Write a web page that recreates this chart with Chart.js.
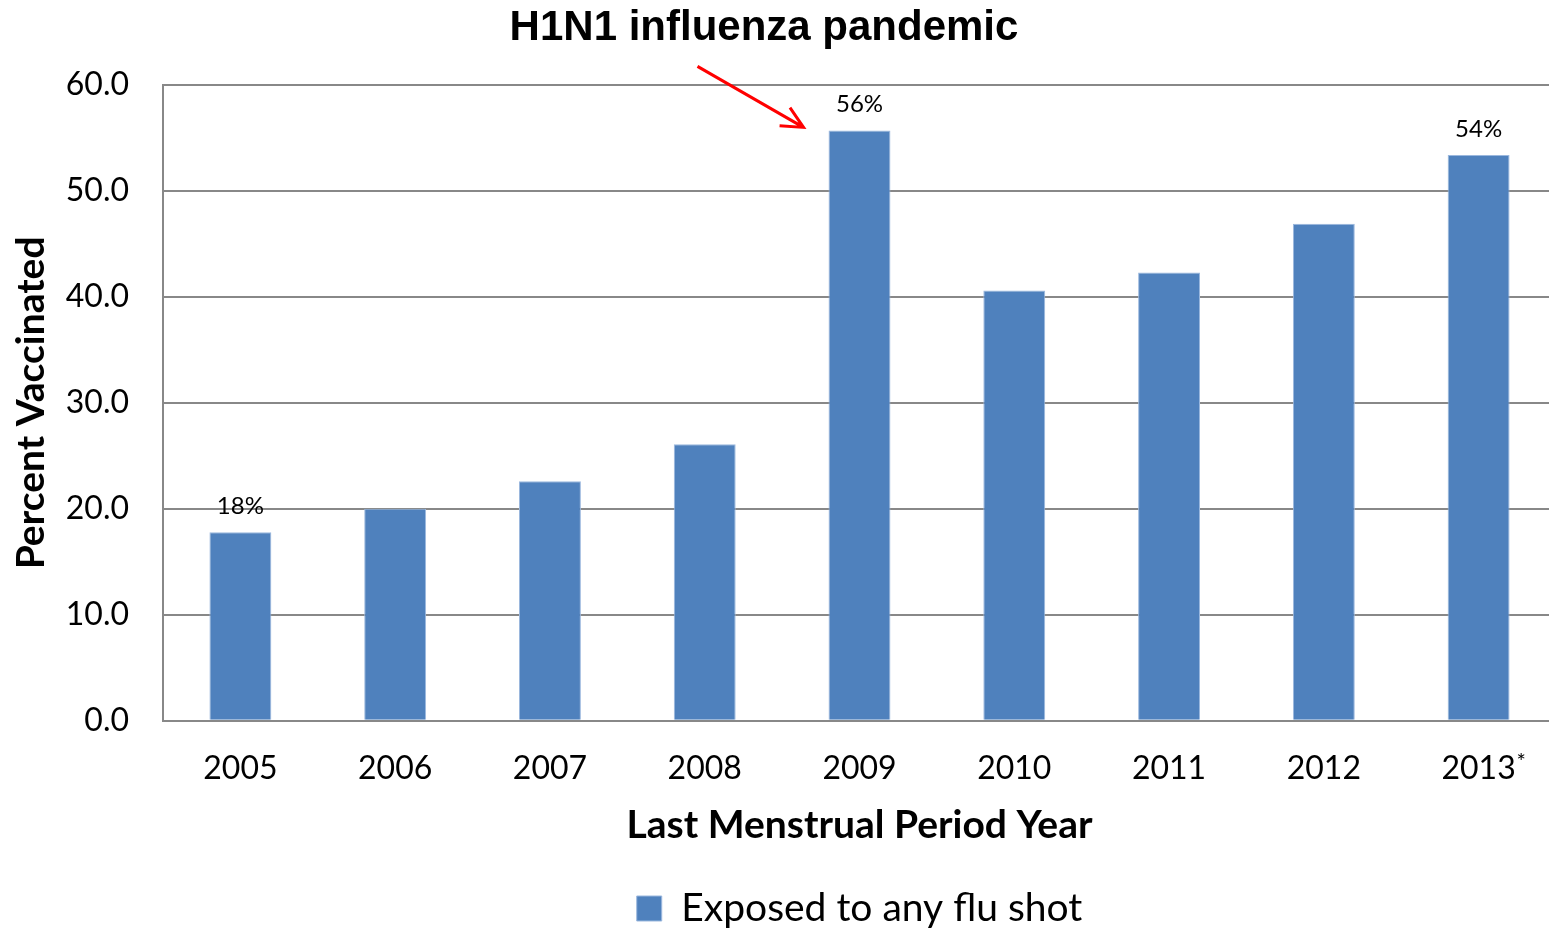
<!DOCTYPE html>
<html>
<head>
<meta charset="utf-8">
<script src="https://cdn.jsdelivr.net/npm/chart.js@4"></script>
<style>
    body { margin: 0; overflow: hidden; background: #fff; }
    #wrap { width: 1556px; height: 930px; }
</style>
</head>
<body>
<div id="wrap"><canvas id="fluShotChart"></canvas></div>
<script>
// Values
const years = ['2005', '2006', '2007', '2008', '2009', '2010', '2011', '2012', '2013'];
const yearMarks = ['', '', '', '', '', '', '', '', '*'];
const percentVaccinated = [17.8, 20.0, 22.6, 26.1, 55.7, 40.6, 42.3, 46.9, 53.4];
const barLabels = ['18%', null, null, null, '56%', null, null, null, '54%'];
const yTicks = [0, 10, 20, 30, 40, 50, 60];
const chartTitle = 'H1N1 influenza pandemic';

// title drawn by hand so it can sit a bit left of centre, like the slide
const titlePlugin = {
    id: 'slideTitle',
    afterDraw(chart) {
        const ctx = chart.ctx;
        ctx.save();
        ctx.fillStyle = '#000';
        ctx.font = 'bold 42px "Liberation Sans"';
        ctx.textAlign = 'center';
        ctx.textBaseline = 'middle';
        ctx.fillText(chartTitle, 764, 28);
        ctx.restore();
    }
};

// little labels above some bars, plus the superscript on the last year
const barLabelPlugin = {
    id: 'barLabels',
    afterDatasetsDraw(chart) {
        const ctx = chart.ctx;
        const meta = chart.getDatasetMeta(0);
        ctx.save();
        ctx.fillStyle = '#000';
        ctx.textAlign = 'center';
        ctx.textBaseline = 'bottom';
        ctx.font = '24px Lato';
        meta.data.forEach((bar, i) => {
            if (barLabels[i]) ctx.fillText(barLabels[i], bar.x, bar.y - 14);
        });
        const x = chart.scales.x;
        ctx.font = '22px Lato';
        ctx.textAlign = 'left';
        ctx.textBaseline = 'top';
        yearMarks.forEach((m, i) => {
            if (!m) return;
            ctx.fillText(m, x.getPixelForValue(i) + 38, x.top + 30);
        });
        ctx.restore();
    }
};

// red arrow from the title to the 2009 bar
const arrowPlugin = {
    id: 'arrow',
    afterDraw(chart) {
        const ctx = chart.ctx;
        const x = chart.scales.x, y = chart.scales.y;
        const x2 = x.getPixelForValue(4) - 56, y2 = y.getPixelForValue(56.0);
        const x1 = x2 - 106, y1 = y2 - 61;
        const ang = Math.atan2(y2 - y1, x2 - x1);
        ctx.save();
        ctx.strokeStyle = '#ff0000';
        ctx.lineWidth = 3;
        ctx.beginPath();
        ctx.moveTo(x1, y1);
        ctx.lineTo(x2, y2);
        ctx.moveTo(x2 - 24 * Math.cos(ang - 0.45), y2 - 24 * Math.sin(ang - 0.45));
        ctx.lineTo(x2, y2);
        ctx.lineTo(x2 - 24 * Math.cos(ang + 0.45), y2 - 24 * Math.sin(ang + 0.45));
        ctx.stroke();
        ctx.restore();
    }
};

function initFluShotChart() {
    const ctx = document.getElementById('fluShotChart').getContext('2d');
    new Chart(ctx, {
        type: 'bar',
        data: {
            labels: years,
            datasets: [{
                label: 'Exposed to any flu shot',
                data: percentVaccinated,
                backgroundColor: '#4f81bd',
                borderColor: '#9bb8de',
                borderWidth: 1,
                barPercentage: 0.4,
                categoryPercentage: 1
            }]
        },
        options: {
            responsive: true,
            maintainAspectRatio: false,
            animation: false,
            layout: { padding: { left: 8, right: 0, top: 85, bottom: -8 } },
            plugins: {
                legend: {
                    position: 'bottom',
                    fullSize: false,
                    labels: {
                        color: '#000',
                        font: { family: 'Lato', size: 39 },
                        boxWidth: 25,
                        boxHeight: 25,
                        padding: 3
                    }
                },
                tooltip: { enabled: false }
            },
            scales: {
                x: {
                    grid: { display: false, drawTicks: false },
                    border: { color: '#888', width: 2 },
                    ticks: { color: '#000', font: { family: 'Lato', size: 32 }, padding: 29 },
                    title: {
                        display: true,
                        text: 'Last Menstrual Period Year',
                        color: '#000',
                        font: { family: 'Lato', size: 39, weight: 'bold' },
                        padding: { top: -15, bottom: 37 }
                    }
                },
                y: {
                    min: 0,
                    max: 60,
                    afterBuildTicks: (axis) => { axis.ticks = yTicks.map(v => ({ value: v })); },
                    afterFit: (axis) => { axis.width = 155; },
                    grid: { color: '#888', lineWidth: 2, drawTicks: false },
                    border: { color: '#888', width: 2 },
                    ticks: {
                        color: '#000',
                        font: { family: 'Lato', size: 32 },
                        padding: 34,
                        callback: (v) => Number(v).toFixed(1)
                    },
                    title: {
                        display: true,
                        text: 'Percent Vaccinated',
                        color: '#000',
                        font: { family: 'Lato', size: 39, weight: 'bold' },
                        padding: { top: 0, bottom: 0 }
                    }
                }
            }
        },
        plugins: [titlePlugin, barLabelPlugin, arrowPlugin]
    });
}

document.addEventListener('DOMContentLoaded', () => {
    initFluShotChart();
});
</script>
</body>
</html>
